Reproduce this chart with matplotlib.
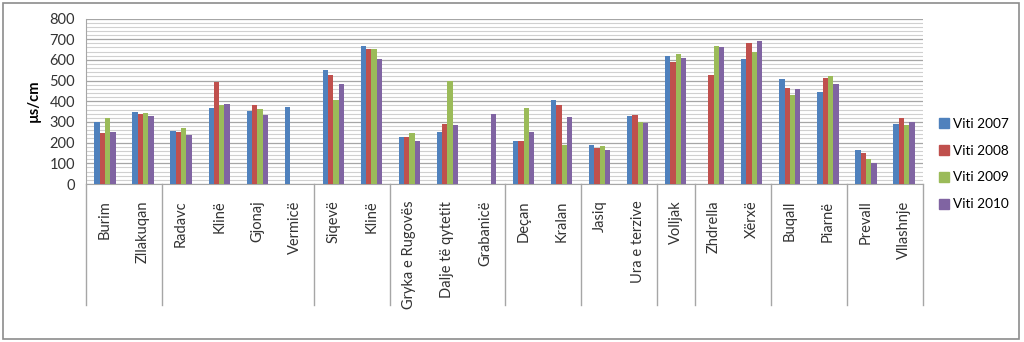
import matplotlib
matplotlib.use("Agg")
import matplotlib.pyplot as plt
import numpy as np
from matplotlib.patches import Rectangle
from matplotlib.lines import Line2D

plt.rcParams['font.family'] = ['Lato', 'DejaVu Sans']

categories = ["Burim", "Zllakuqan", "Radavc", "Klinë", "Gjonaj", "Vermicë",
              "Siqevë", "Klinë", "Gryka e Rugovës", "Dalje të qytetit", "Grabanicë",
              "Deçan", "Kralan", "Jasiq", "Ura e terzive", "Volljak",
              "Zhdrella", "Xërxë", "Buqall", "Piarnë", "Prevall", "Vllashnje"]

nan = np.nan
viti_2007 = [300, 346, 257, 367, 355, 373, 551, 669, 229, 252, nan, 207, 404, 187, 331, 620, nan, 606, 507, 446, 163, 291]
viti_2008 = [246, 339, 252, 491, 381, nan, 528, 653, 229, 291, nan, 210, 383, 174, 334, 590, 528, 683, 465, 510, 150, 321]
viti_2009 = [321, 342, 271, 381, 363, nan, 407, 653, 246, 499, nan, 367, 189, 183, 300, 628, 669, 640, 431, 523, 120, 286]
viti_2010 = [249, 331, 239, 388, 334, nan, 481, 606, 210, 286, 339, 252, 325, 163, 296, 611, 661, 690, 459, 481, 100, 299]

series_names = ["Viti 2007", "Viti 2008", "Viti 2009", "Viti 2010"]
colors = ["#4F81BD", "#C0504D", "#9BBB59", "#8064A2"]
# group boundaries (separators between station groups)
group_bounds = [-0.5, 1.5, 5.5, 7.5, 10.5, 12.5, 14.5, 15.5, 17.5, 19.5, 21.5]

fig = plt.figure(figsize=(10.24, 3.42), dpi=100)
ax = fig.add_axes([86/1024, 1-184/342, (923-86)/1024, (184-18.5)/342])

x = np.arange(len(categories))
bw = 0.14
all_series = [viti_2007, viti_2008, viti_2009, viti_2010]
for i, (vals, c) in enumerate(zip(all_series, colors)):
    ax.bar(x + (i - 1.5) * bw, vals, width=bw, color=c, linewidth=0, zorder=3)

ax.set_xlim(-0.5, len(categories) - 0.5)
ax.set_ylim(0, 800)
ax.set_yticks(np.arange(0, 801, 100))
ax.set_yticks(np.arange(0, 801, 20), minor=True)
ax.grid(axis='y', which='major', color='#A6A6A6', linewidth=0.9, zorder=0)
ax.grid(axis='y', which='minor', color='#D0D0D0', linewidth=0.8, zorder=0)
ax.tick_params(axis='y', which='both', length=0, labelsize=10.5, pad=8, colors='#333333')
ax.set_xticks(x)
ax.set_xticklabels(categories, rotation=90, fontsize=10.5, va='top', ha='center')
ax.tick_params(axis='x', length=0, pad=12, colors='#333333')

for s in ['top', 'right']:
    ax.spines[s].set_visible(False)
ax.spines['left'].set_color('#A6A6A6')
ax.spines['bottom'].set_color('#A6A6A6')

depth = (305 - 184) / (184 - 18.5)
for b in group_bounds:
    ax.plot([b, b], [0, -depth], transform=ax.get_xaxis_transform(),
            color='#A6A6A6', linewidth=1.0, clip_on=False, zorder=4)

ax.set_ylabel("µs/cm", fontsize=10.5, fontweight='bold', labelpad=6)

handles = [Line2D([], [], marker='s', linestyle='none', markersize=6.5,
                  markerfacecolor=c, markeredgecolor=c) for c in colors]
fig.legend(handles, series_names, loc='center left', bbox_to_anchor=(933/1024, 1-164/342),
           frameon=False, fontsize=9.8, handlelength=0.8, handletextpad=0.3,
           labelspacing=1.1, borderaxespad=0)

fig.patches.append(Rectangle((3/1024, 3/342), 1016/1024, 336/342, transform=fig.transFigure,
                             fill=False, edgecolor='#8C8C8C', linewidth=1.2))

fig.savefig("out.png", dpi=100)
